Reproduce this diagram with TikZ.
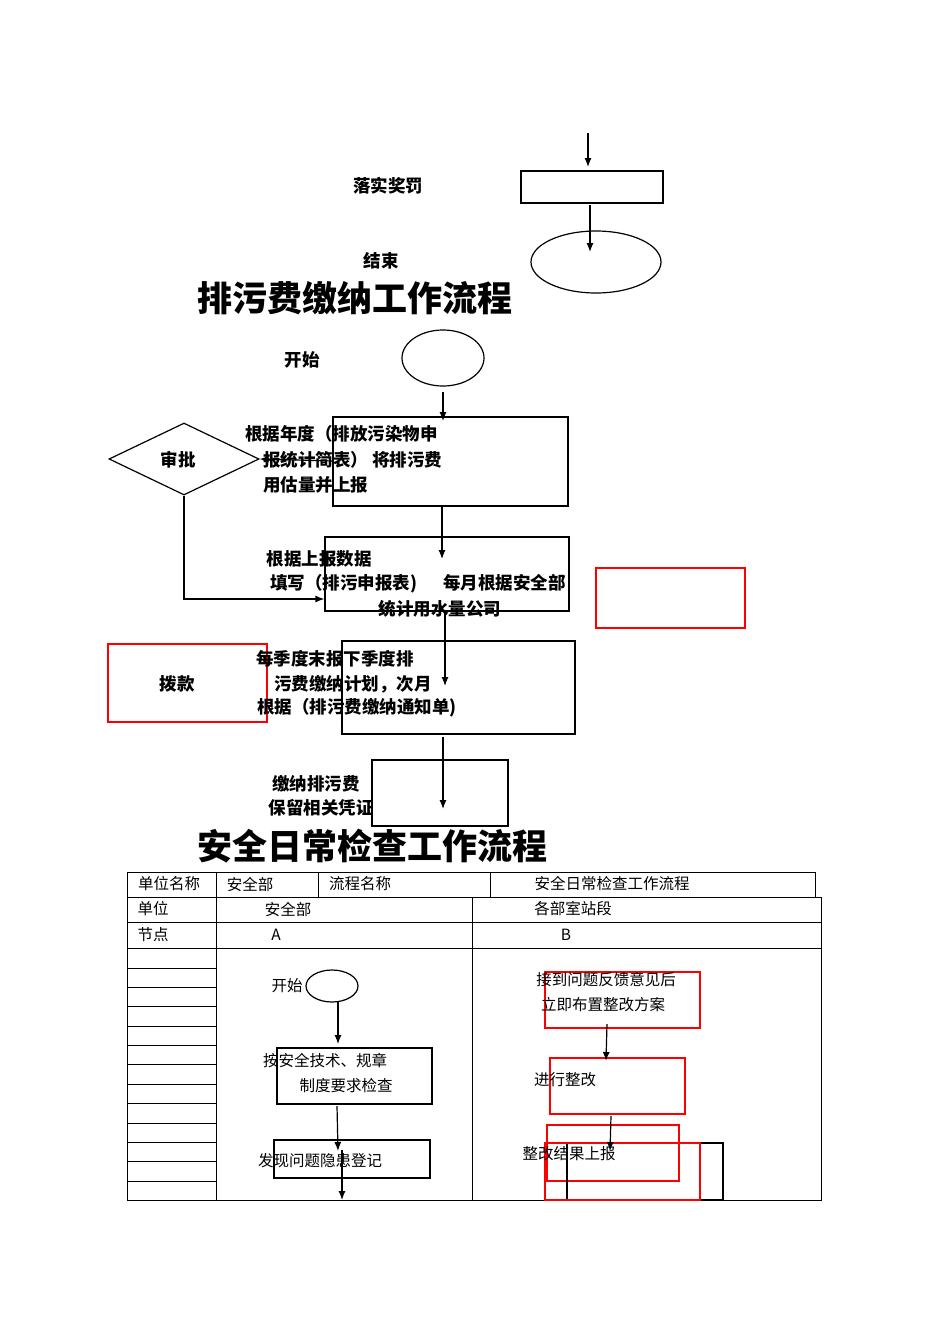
\documentclass[tikz,border=0pt]{standalone}
\usepackage{fontspec}
\setmainfont{Noto Sans CJK SC}
\usetikzlibrary{shapes.geometric,arrows.meta}
\begin{document}
\begin{tikzpicture}[x=1pt,y=-1pt,
  box/.style={draw,line width=1.2pt},
  rbox/.style={draw=red,line width=1.2pt},
  arr/.style={-{Latex[length=9pt,width=7pt]},line width=1.2pt},
  bt/.style={font=\fontsize{17.5}{20}\selectfont\bfseries,inner sep=0pt},
  tt/.style={font=\fontsize{15.5}{18}\selectfont,inner sep=0pt},
  tl/.style={draw,line width=0.6pt},
  title/.style={font=\fontsize{35}{40}\selectfont\bfseries,inner sep=0pt}]
\useasboundingbox (0,0) rectangle (950,1344);
\fill[white] (0,0) rectangle (950,1344);
% top
\coordinate (t0) at (588,133);
\node[box,minimum width=142pt,minimum height=32pt,inner sep=0pt] (r0) at (592,187) {};
\draw[arr] (t0) -- (588,167);
\node[bt] (lsjf) at (388,186) {落实奖罚};
\node[box,ellipse,minimum width=130pt,minimum height=62pt,inner sep=0pt] (end) at (596,262) {};
\draw[arr] (590,205) -- (590,252);
\node[bt] (jsl) at (381,261) {结束};
\node[title] (t1) at (355,298) {排污费缴纳工作流程};
\node[bt] (ks) at (302,360) {开始};
\node[box,ellipse,minimum width=82pt,minimum height=56pt,inner sep=0pt] (start) at (443,358) {};
\node[box,minimum width=235pt,minimum height=89pt,inner sep=0pt] (b1) at (450.5,461.5) {};
\draw[arr] (443,392) -- (443,421);
\node[bt,anchor=west] at (245,434) {根据年度（排放污染物申};
\node[bt,anchor=west] at (263,460) {报统计简表） 将排污费};
\node[bt,anchor=west] at (263,485) {用估量并上报};
\node[box,diamond,minimum width=150pt,minimum height=72pt,inner sep=0pt] (sp) at (184,459) {};
\node[bt] at (178,460) {审批};
\draw[arr] (333,461) -- (sp.east);
\node[box,minimum width=244pt,minimum height=74pt,inner sep=0pt] (b2) at (447,574) {};
\draw[arr] (sp.south) |- (b2.west|-0,599);
\draw[arr] (442,506) -- (442,559);
\node[bt] at (319,559) {根据上报数据};
\node[bt] at (418,584) {填写（排污申报表)\hspace{26pt}每月根据安全部};
\node[bt] at (440,609) {统计用水量公司};
\node[rbox,minimum width=149pt,minimum height=60pt,inner sep=0pt] (red1) at (670.5,598) {};
\node[box,minimum width=233pt,minimum height=93pt,inner sep=0pt] (b3) at (458.5,687.5) {};
\draw[arr] (445,611) -- (445,686);
\node[rbox,minimum width=159pt,minimum height=78pt,inner sep=0pt] (bk) at (187.5,683) {};
\node[bt] at (177,684) {拨款};
\node[bt] at (335,659) {每季度末报下季度排};
\node[bt] at (353,684) {污费缴纳计划，次月};
\node[bt] at (357,708) {根据（排污费缴纳通知单)};
\node[box,minimum width=136pt,minimum height=66pt,inner sep=0pt] (b4) at (440,793) {};
\draw[arr] (443,737) -- (443,809);
\node[bt] at (316,784) {缴纳排污费};
\node[bt] at (321,808) {保留相关凭证};
\node[title] (t2) at (372,846) {安全日常检查工作流程};
% table
\draw[tl] (127,872) rectangle (815,897);
\foreach \x in {216,318,490} \draw[tl] (\x,872) -- (\x,897);
\draw[tl] (127,897) rectangle (821,1200);
\draw[tl] (127,922) -- (821,922);
\draw[tl] (127,948) -- (821,948);
\draw[tl] (216,897) -- (216,1200);
\draw[tl] (472,897) -- (472,1200);
\foreach \y in {968,987,1006,1026,1045,1064,1084,1103,1123,1142,1161,1181} \draw[tl] (127,\y) -- (216,\y);
\node[tt] at (169,884) {单位名称};
\node[tt] at (250,884) {安全部};
\node[tt] at (360,884) {流程名称};
\node[tt] at (612,884) {安全日常检查工作流程};
\node[tt] at (153,909) {单位};
\node[tt] at (288,909) {安全部};
\node[tt] at (573,909) {各部室站段};
\node[tt] at (153,935) {节点};
\node[tt] at (276,935) {A};
\node[tt] at (566,935) {B};
% column A
\node[draw,line width=1.2pt,ellipse,minimum width=52pt,minimum height=32pt,inner sep=0pt] (as) at (332,986) {};
\node[tt] at (287,986) {开始};
\node[box,minimum width=155pt,minimum height=56pt,inner sep=0pt] (a1) at (354.5,1076) {};
\draw[arr] (338,1002) -- (338,1044);
\node[tt] at (325,1061) {按安全技术、规章};
\node[tt] at (346,1086) {制度要求检查};
\node[box,minimum width=156pt,minimum height=38pt,inner sep=0pt] (a2) at (352,1159) {};
\draw[arr] (337,1106) -- (338,1151);
\node[tt] at (320,1161) {发现问题隐患登记};
\coordinate (aend) at (342,1200);
\draw[arr] (342,1150) -- (aend);
% column B
\node[rbox,minimum width=155pt,minimum height=56pt,inner sep=0pt] (b1r) at (622.5,1000) {};
\node[tt] at (606,980) {接到问题反馈意见后};
\node[tt] at (603,1005) {立即布置整改方案};
\node[rbox,minimum width=135pt,minimum height=56pt,inner sep=0pt] (b2r) at (617.5,1086) {};
\draw[arr] (607,1024) -- (606,1061);
\node[tt] at (565,1080) {进行整改};
\node[rbox,minimum width=132pt,minimum height=56pt,inner sep=0pt] (b3r) at (613,1153) {};
\node[box,minimum width=156pt,minimum height=57pt,inner sep=0pt] (b4k) at (645,1171.5) {};
\node[rbox,minimum width=155pt,minimum height=57pt,inner sep=0pt] (b4r) at (622.5,1171.5) {};
\draw[arr] (611,1116) -- (610,1151);
\node[tt] at (569,1154) {整改结果上报};
\end{tikzpicture}
\end{document}
